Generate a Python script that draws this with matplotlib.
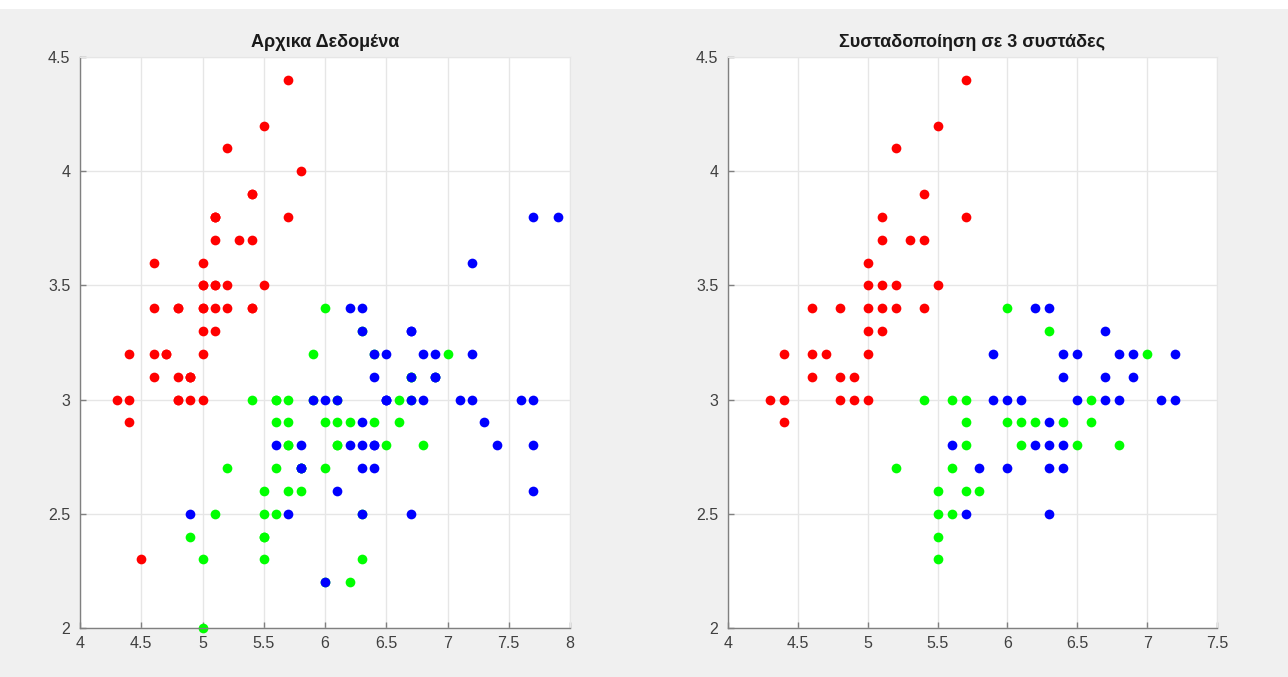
import matplotlib
matplotlib.use('Agg')
import matplotlib.pyplot as plt
from matplotlib.ticker import FormatStrFormatter, MultipleLocator
from matplotlib.patches import Rectangle

plt.rcParams['font.family'] = ['Liberation Sans', 'DejaVu Sans']

# iris: sepal length / sepal width per species
setosa_x = [5.1, 4.9, 4.7, 4.6, 5.0, 5.4, 4.6, 5.0, 4.4, 4.9, 5.4, 4.8, 4.8, 4.3, 5.8, 5.7, 5.4,
            5.1, 5.7, 5.1, 5.4, 5.1, 4.6, 5.1, 4.8, 5.0, 5.0, 5.2, 5.2, 4.7, 4.8, 5.4, 5.2, 5.5,
            4.9, 5.0, 5.5, 4.9, 4.4, 5.1, 5.0, 4.5, 4.4, 5.0, 5.1, 4.8, 5.1, 4.6, 5.3, 5.0]
setosa_y = [3.5, 3.0, 3.2, 3.1, 3.6, 3.9, 3.4, 3.4, 2.9, 3.1, 3.7, 3.4, 3.0, 3.0, 4.0, 4.4, 3.9,
            3.5, 3.8, 3.8, 3.4, 3.7, 3.6, 3.3, 3.4, 3.0, 3.4, 3.5, 3.4, 3.2, 3.1, 3.4, 4.1, 4.2,
            3.1, 3.2, 3.5, 3.1, 3.0, 3.4, 3.5, 2.3, 3.2, 3.5, 3.8, 3.0, 3.8, 3.2, 3.7, 3.3]
versicolor_x = [7.0, 6.4, 6.9, 5.5, 6.5, 5.7, 6.3, 4.9, 6.6, 5.2, 5.0, 5.9, 6.0, 6.1, 5.6, 6.7, 5.6,
                5.8, 6.2, 5.6, 5.9, 6.1, 6.3, 6.1, 6.4, 6.6, 6.8, 6.7, 6.0, 5.7, 5.5, 5.5, 5.8, 6.0,
                5.4, 6.0, 6.7, 6.3, 5.6, 5.5, 5.5, 6.1, 5.8, 5.0, 5.6, 5.7, 5.7, 6.2, 5.1, 5.7]
versicolor_y = [3.2, 3.2, 3.1, 2.3, 2.8, 2.8, 3.3, 2.4, 2.9, 2.7, 2.0, 3.0, 2.2, 2.9, 2.9, 3.1, 3.0,
                2.7, 2.2, 2.5, 3.2, 2.8, 2.5, 2.8, 2.9, 3.0, 2.8, 3.0, 2.9, 2.6, 2.4, 2.4, 2.7, 2.7,
                3.0, 3.4, 3.1, 2.3, 3.0, 2.5, 2.6, 3.0, 2.6, 2.3, 2.7, 3.0, 2.9, 2.9, 2.5, 2.8]
virginica_x = [6.3, 5.8, 7.1, 6.3, 6.5, 7.6, 4.9, 7.3, 6.7, 7.2, 6.5, 6.4, 6.8, 5.7, 5.8, 6.4, 6.5,
               7.7, 7.7, 6.0, 6.9, 5.6, 7.7, 6.3, 6.7, 7.2, 6.2, 6.1, 6.4, 7.2, 7.4, 7.9, 6.4, 6.3,
               6.1, 7.7, 6.3, 6.4, 6.0, 6.9, 6.7, 6.9, 5.8, 6.8, 6.7, 6.7, 6.3, 6.5, 6.2, 5.9]
virginica_y = [3.3, 2.7, 3.0, 2.9, 3.0, 3.0, 2.5, 2.9, 2.5, 3.6, 3.2, 2.7, 3.0, 2.5, 2.8, 3.2, 3.0,
               3.8, 2.6, 2.2, 3.2, 2.8, 2.8, 2.7, 3.3, 3.2, 2.8, 3.0, 2.8, 3.0, 2.8, 3.8, 2.8, 2.8,
               2.6, 3.0, 3.4, 3.1, 3.0, 3.1, 3.1, 3.1, 2.7, 3.2, 3.3, 3.0, 2.5, 3.0, 3.4, 3.0]

# cluster assignments of the clustered samples
c1_x = [5.7, 5.5, 5.2, 5.4, 5.1, 5.7, 5.1, 5.3, 5.4, 5.0, 5.0, 5.1, 5.2, 5.5, 4.6, 4.8, 5.0, 5.1,
        5.2, 5.4, 5.0, 5.1, 4.4, 4.6, 4.7, 5.0, 4.6, 4.8, 4.9, 4.3, 4.4, 4.8, 4.9, 5.0, 4.4]
c1_y = [4.4, 4.2, 4.1, 3.9, 3.8, 3.8, 3.7, 3.7, 3.7, 3.6, 3.5, 3.5, 3.5, 3.5, 3.4, 3.4, 3.4, 3.4,
        3.4, 3.4, 3.3, 3.3, 3.2, 3.2, 3.2, 3.2, 3.1, 3.1, 3.1, 3.0, 3.0, 3.0, 3.0, 3.0, 2.9]
c2_x = [5.4, 5.6, 5.7, 5.7, 5.7, 5.2, 5.6, 5.5, 5.7, 5.8, 5.5, 5.6, 5.5, 5.5, 6.0, 6.3, 7.0,
        6.6, 6.0, 6.1, 6.2, 6.4, 6.6, 6.1, 6.5, 6.8]
c2_y = [3.0, 3.0, 3.0, 2.9, 2.8, 2.7, 2.7, 2.6, 2.6, 2.6, 2.5, 2.5, 2.4, 2.3, 3.4, 3.3, 3.2,
        3.0, 2.9, 2.9, 2.9, 2.9, 2.9, 2.8, 2.8, 2.8]
c3_x = [5.9, 5.9, 5.6, 5.8, 5.7, 6.2, 6.3, 6.7, 6.4, 6.5, 6.8, 6.9, 7.2, 6.4, 6.7, 6.9, 6.0,
        6.1, 6.5, 6.7, 6.8, 7.1, 7.2, 6.3, 6.2, 6.3, 6.4, 6.0, 6.3, 6.4, 6.3]
c3_y = [3.2, 3.0, 2.8, 2.7, 2.5, 3.4, 3.4, 3.3, 3.2, 3.2, 3.2, 3.2, 3.2, 3.1, 3.1, 3.1, 3.0,
        3.0, 3.0, 3.0, 3.0, 3.0, 3.0, 2.9, 2.8, 2.8, 2.8, 2.7, 2.7, 2.7, 2.5]

fig = plt.figure(figsize=(12.88, 6.77), dpi=100, facecolor='#f0f0f0')
fig.add_artist(Rectangle((0, 1 - 9 / 677), 1, 9 / 677, transform=fig.transFigure,
                         facecolor='white', edgecolor='none'))

ax1 = fig.add_axes([80 / 1288, 49 / 677, 490 / 1288, 571 / 677])
ax2 = fig.add_axes([728 / 1288, 49 / 677, 489 / 1288, 571 / 677])

ms = 7
ax1.plot(setosa_x, setosa_y, 'o', color='#ff0000', ms=ms, mec='none')
ax1.plot(versicolor_x, versicolor_y, 'o', color='#00ff00', ms=ms, mec='none')
ax1.plot(virginica_x, virginica_y, 'o', color='#0000ff', ms=ms, mec='none')
ax1.set_xlim(4, 8)
ax1.set_title('Αρχικα Δεδομένα', fontsize=13, fontweight='bold', color='#1a1a1a', pad=7)

ax2.plot(c1_x, c1_y, 'o', color='#ff0000', ms=ms, mec='none')
ax2.plot(c2_x, c2_y, 'o', color='#00ff00', ms=ms, mec='none')
ax2.plot(c3_x, c3_y, 'o', color='#0000ff', ms=ms, mec='none')
ax2.set_xlim(4, 7.5)
ax2.set_title('Συσταδοποίηση σε 3 συστάδες', fontsize=13, fontweight='bold', color='#1a1a1a', pad=7)

for ax in (ax1, ax2):
    ax.set_ylim(2, 4.5)
    ax.set_facecolor('white')
    ax.xaxis.set_major_locator(MultipleLocator(0.5))
    ax.yaxis.set_major_locator(MultipleLocator(0.5))
    ax.xaxis.set_major_formatter(FormatStrFormatter('%g'))
    ax.yaxis.set_major_formatter(FormatStrFormatter('%g'))
    ax.grid(True, color='#e6e6e6', lw=1)
    ax.set_axisbelow(True)
    for s in ('top', 'right'):
        ax.spines[s].set_color('#e6e6e6')
    for s in ('left', 'bottom'):
        ax.spines[s].set_color('#808080')
        ax.spines[s].set_linewidth(1)
    ax.tick_params(direction='in', length=4, width=1, color='#808080',
                   labelsize=11.5, labelcolor='#404040')
    ax.tick_params(axis='x', pad=6)
    ax.tick_params(axis='y', pad=7)
    for m in ax.lines:
        m.set_clip_on(False)

fig.savefig('out.png', dpi=100, facecolor=fig.get_facecolor())
